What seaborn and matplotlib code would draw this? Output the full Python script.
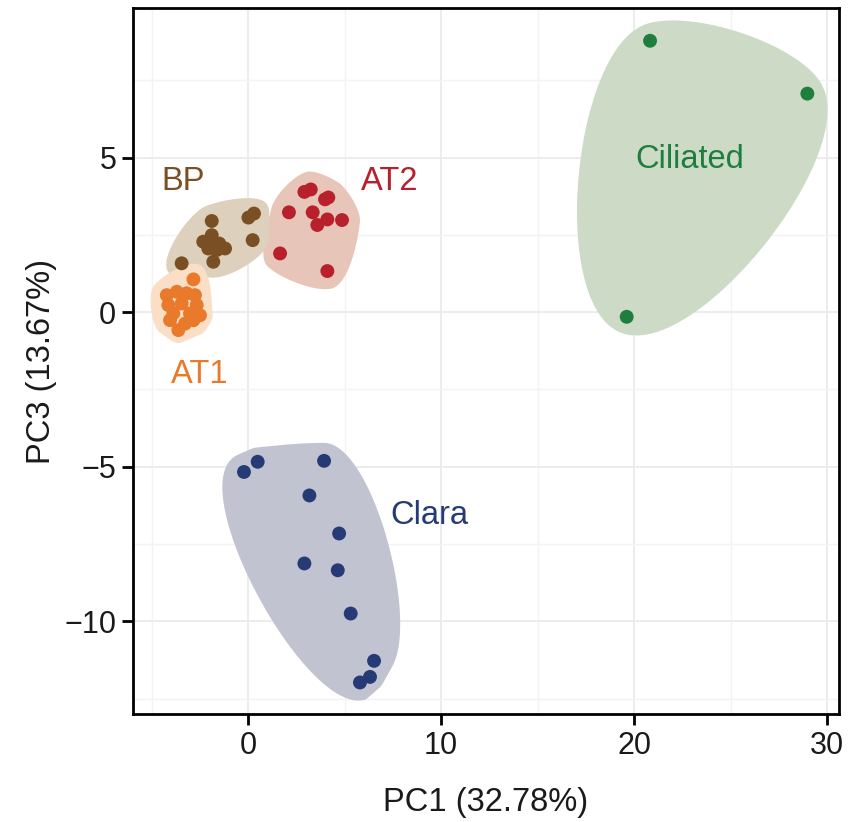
import numpy as np
import pandas as pd
import matplotlib
matplotlib.use("Agg")
import matplotlib.pyplot as plt
from matplotlib.ticker import MultipleLocator
import seaborn as sns

# ---- PCA scores per cell population ----
groups = ["Clara", "Ciliated", "AT2", "BP", "AT1"]

at1_pc1 = [-2.83, -4.21, -3.69, -3.18, -2.75, -4.13, -3.44, -2.66, -3.87, -3.01, -2.49, -4.04, -3.26, -3.61, -2.83]
at1_pc3 = [1.06, 0.55, 0.66, 0.61, 0.55, 0.23, 0.28, 0.23, -0.04, -0.04, -0.10, -0.26, -0.37, -0.58, -0.26]

bp_pc1 = [-1.88, 0.31, 0.02, 0.24, -2.32, -1.88, -1.80, -1.49, -1.19, -2.06, -1.62, -1.80, -3.44]
bp_pc3 = [2.95, 3.19, 3.06, 2.33, 2.28, 2.49, 2.24, 2.22, 2.06, 2.06, 2.01, 1.63, 1.58]

at2_pc1 = [2.12, 2.92, 3.25, 3.99, 4.16, 3.35, 4.11, 3.59, 4.87, 1.66, 4.11]
at2_pc3 = [3.23, 3.89, 3.97, 3.65, 3.71, 3.23, 3.00, 2.82, 2.98, 1.90, 1.33]

ciliated_pc1 = [20.83, 28.98, 19.62]
ciliated_pc3 = [8.78, 7.07, -0.15]

clara_pc1 = [0.50, -0.21, 3.94, 3.18, 4.72, 2.92, 4.65, 5.32, 6.53, 6.32, 5.80]
clara_pc3 = [-4.84, -5.17, -4.81, -5.93, -7.16, -8.13, -8.35, -9.75, -11.28, -11.80, -11.98]

x_ticks = [0, 10, 20, 30]
y_ticks = [-10, -5, 0, 5]

point_colors = {"AT1": "#E97A2B", "BP": "#7B4F24", "AT2": "#B8212C",
                "Ciliated": "#1E7E3E", "Clara": "#263B75"}
fill_colors = {"AT1": "#FADFC6", "BP": "#DDD0BD", "AT2": "#E8C5B9",
               "Ciliated": "#CDDAC6", "Clara": "#C1C3D0"}
label_pos = {"BP": (-3.35, 3.95), "AT2": (7.36, 3.95), "AT1": (-2.50, -2.29),
             "Ciliated": (22.88, 4.67), "Clara": (9.40, -6.84)}
# blob padding (px) and curvature for each group outline
blob_style = {"AT1": (16, 0.7), "BP": (16, 0.7), "AT2": (18, 0.75),
              "Ciliated": (17, 0.75), "Clara": (18, 0.65)}

scores = {
    "AT1": (at1_pc1, at1_pc3),
    "BP": (bp_pc1, bp_pc3),
    "AT2": (at2_pc1, at2_pc3),
    "Ciliated": (ciliated_pc1, ciliated_pc3),
    "Clara": (clara_pc1, clara_pc3),
}

df = pd.concat(
    [pd.DataFrame({"PC1": v[0], "PC3": v[1], "cell": k}) for k, v in scores.items()],
    ignore_index=True,
)

# ---- theme ----
sns.set_theme(style="white")
plt.rcParams["font.family"] = ["Liberation Sans", "DejaVu Sans"]

fig = plt.figure(figsize=(8.52, 8.22), dpi=100)
ax = fig.add_axes([133 / 852, 1 - 714 / 822, (839 - 133) / 852, (714 - 8) / 822])
ax.set_xlim(-5.96, 30.62)
ax.set_ylim(-13.0, 9.84)

ax.xaxis.set_minor_locator(MultipleLocator(5))
ax.yaxis.set_minor_locator(MultipleLocator(2.5))
ax.set_xticks(x_ticks)
ax.set_yticks(y_ticks)
ax.set_axisbelow(True)
ax.grid(which="major", color="#EBEBEB", lw=1.3)
ax.grid(which="minor", color="#F3F3F3", lw=1.0)
for s in ax.spines.values():
    s.set_visible(True)
    s.set_color("black")
    s.set_linewidth(2)
ax.tick_params(which="major", direction="out", length=8, width=2, color="black",
               labelsize=22, labelcolor="#1a1a1a", pad=4, bottom=True, left=True)
ax.tick_params(which="minor", length=0)


def convex_hull(pts):
    pts = sorted(map(tuple, pts))
    def cross(o, a, b):
        return (a[0] - o[0]) * (b[1] - o[1]) - (a[1] - o[1]) * (b[0] - o[0])
    lower, upper = [], []
    for p in pts:
        while len(lower) >= 2 and cross(lower[-2], lower[-1], p) <= 0:
            lower.pop()
        lower.append(p)
    for p in reversed(pts):
        while len(upper) >= 2 and cross(upper[-2], upper[-1], p) <= 0:
            upper.pop()
        upper.append(p)
    return np.array(lower[:-1] + upper[:-1])  # counter-clockwise


def encircle(ax, xs, ys, expand=16.0, k=0.7, n=40, min_gap=18.0, **kw):
    """Smooth convex blob around a group of points, built in display space."""
    pts = ax.transData.transform(np.column_stack([xs, ys]))
    hull = convex_hull(pts)
    # drop hull corners that sit too close to the previous kept one
    kept = [hull[0]]
    for p in hull[1:]:
        if np.linalg.norm(p - kept[-1]) >= min_gap and np.linalg.norm(p - kept[0]) >= min_gap:
            kept.append(p)
    hull = np.array(kept)
    c = pts.mean(axis=0)
    rad = hull - c
    d = rad / np.linalg.norm(rad, axis=1)[:, None]
    ctrl = hull + expand * d
    tang = np.column_stack([-d[:, 1], d[:, 0]])
    m = len(ctrl)
    t = np.linspace(0, 1, n, endpoint=False)[:, None]
    h00 = 2 * t**3 - 3 * t**2 + 1
    h10 = t**3 - 2 * t**2 + t
    h01 = -2 * t**3 + 3 * t**2
    h11 = t**3 - t**2
    segs = []
    for i in range(m):
        p0, p1 = ctrl[i], ctrl[(i + 1) % m]
        L = np.linalg.norm(p1 - p0)
        m0, m1 = k * L * tang[i], k * L * tang[(i + 1) % m]
        segs.append(h00 * p0 + h10 * m0 + h01 * p1 + h11 * m1)
    # also wrap every point with a small disc so no dot pokes out
    ang = np.linspace(0, 2 * np.pi, 24, endpoint=False)
    disc = np.column_stack([np.cos(ang), np.sin(ang)]) * expand * 0.8
    rings = (pts[:, None, :] + disc[None, :, :]).reshape(-1, 2)
    curve = convex_hull(np.vstack(segs + [rings]))
    data = ax.transData.inverted().transform(curve)
    ax.fill(data[:, 0], data[:, 1], lw=0, zorder=1, **kw)


for g in groups:
    xs, ys = scores[g]
    pad, bend = blob_style[g]
    encircle(ax, xs, ys, expand=pad, k=bend, color=fill_colors[g])

sns.scatterplot(data=df, x="PC1", y="PC3", hue="cell", palette=point_colors,
                s=100, linewidth=0, legend=False, ax=ax, zorder=3)

for g, (lx, ly) in label_pos.items():
    ax.text(lx, ly, g, color=point_colors[g], fontsize=23.5, ha="center",
            va="baseline", zorder=4)

ax.set_xlabel("PC1 (32.78%)", fontsize=23.5, color="#1a1a1a", labelpad=19)
ax.set_ylabel("PC3 (13.67%)", fontsize=23.5, color="#1a1a1a", labelpad=5)

fig.savefig("out.png", dpi=100)
